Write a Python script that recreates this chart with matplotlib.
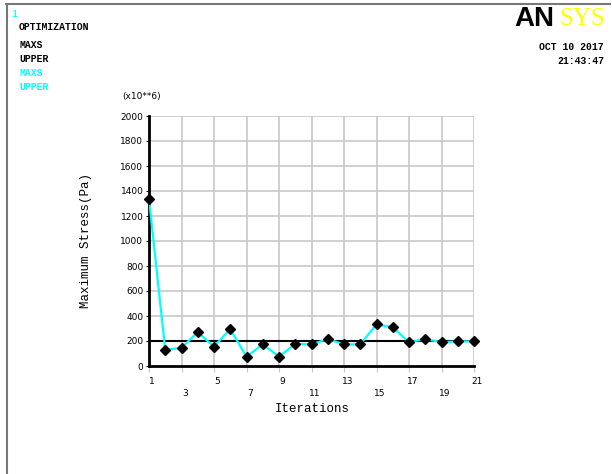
import matplotlib
matplotlib.use("Agg")
import matplotlib.pyplot as plt
from matplotlib.lines import Line2D

iterations = list(range(1, 22))
maxs = [1340, 128, 146, 270, 155, 296, 75, 173, 75, 176, 173, 216,
        173, 173, 333, 310, 190, 216, 190, 197, 197]
upper = [200] * 21
yticks = list(range(0, 2001, 200))
xticks_top = [1, 5, 9, 13, 17, 21]
xticks_bot = [3, 7, 11, 15, 19]

W, H = 612, 474
fig = plt.figure(figsize=(W / 100, H / 100), dpi=100)
mono = "Liberation Mono"

def fx(px):
    return px / W

def fy(py):
    return 1 - py / H

# frame lines (top and left)
fig.add_artist(Line2D([fx(6), fx(610)], [fy(4), fy(4)], color="#777777", lw=1.5, transform=fig.transFigure))
fig.add_artist(Line2D([fx(6.5), fx(6.5)], [fy(4), fy(474)], color="#777777", lw=1.5, transform=fig.transFigure))

ax = fig.add_axes([fx(149), fy(366), fx(474) - fx(149), fy(116) - fy(366)])
ax.set_xlim(1, 21)
ax.set_ylim(0, 2000)
for x in range(3, 22, 2):
    ax.axvline(x, color="#c8c8c8", lw=1.2, zorder=0)
for y in yticks[1:]:
    ax.axhline(y, color="#c8c8c8", lw=1.2, zorder=0)
for s in ["top", "right"]:
    ax.spines[s].set_visible(False)
ax.spines["left"].set_linewidth(2)
ax.spines["bottom"].set_linewidth(2)

ax.plot(iterations, upper, color="black", lw=1.5, zorder=2)
ax.plot(iterations, maxs, color="#00ffff", lw=1.6, zorder=3)
ax.plot(iterations, maxs, linestyle="none", marker="D", color="black", ms=5.5, zorder=4, clip_on=False)

ax.set_yticks(yticks)
ax.set_yticklabels([str(v) for v in yticks], fontsize=6.5, family="DejaVu Sans")
ax.tick_params(axis="y", length=2, width=0.8, pad=2)
ax.set_xticks(list(range(1, 22, 2)))
ax.set_xticklabels([])
ax.tick_params(axis="x", length=4, width=0.8, color="#c8c8c8")
for x in xticks_top:
    ax.text(x + 0.2, -0.06, str(x), transform=ax.get_xaxis_transform(), ha="center", va="center", fontsize=6.5, family="DejaVu Sans")
for x in xticks_bot:
    ax.text(x + 0.2, -0.11, str(x), transform=ax.get_xaxis_transform(), ha="center", va="center", fontsize=6.5, family="DejaVu Sans")

fig.text(fx(312), fy(409), "Iterations", ha="center", va="center", fontsize=9, family=mono)
fig.text(fx(86), fy(240), "Maximum Stress(Pa)", ha="center", va="center", rotation=90, fontsize=9, family=mono)
fig.text(fx(142), fy(96), "(x10**6)", ha="center", va="center", fontsize=6.5, family="DejaVu Sans")

fig.text(fx(11), fy(14), "1", color="#00ffff", fontsize=7.5, family=mono, va="center")
for txt, py, col in [("OPTIMIZATION", 27, "black"), ("MAXS", 45, "black"), ("UPPER", 59, "black"),
                     ("MAXS", 73, "#00ffff"), ("UPPER", 87, "#00ffff")]:
    fig.text(fx(19), fy(py), txt, color=col, fontsize=7, family=mono, va="center", weight="bold")

fig.text(fx(604), fy(47), "OCT 10 2017", ha="right", va="center", fontsize=7, family=mono, weight="bold")
fig.text(fx(604), fy(61), "21:43:47", ha="right", va="center", fontsize=7, family=mono, weight="bold")

fig.text(fx(514), fy(19), "AN", ha="left", va="center", fontsize=20, family="Liberation Sans", weight="bold", color="black")
fig.text(fx(559), fy(19), "SYS", ha="left", va="center", fontsize=18, family="Liberation Serif", color="#ffff00")

fig.savefig("out.png", dpi=100)
